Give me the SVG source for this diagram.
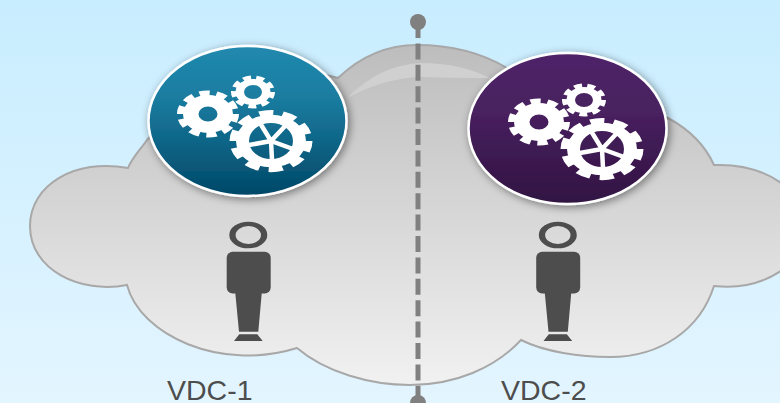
<svg xmlns="http://www.w3.org/2000/svg" xmlns:xlink="http://www.w3.org/1999/xlink" width="780" height="403" viewBox="0 0 780 403">
<style>
.lbl{font-family:"Liberation Sans",Arial,sans-serif;font-size:28.5px;fill:#4d4d4d}
.dk{fill:#4d4d4d}
.w{fill:#fff}
.teeth{fill:none;stroke:#fff}
.spoke{stroke:#fff;stroke-width:4.5;stroke-linecap:round;fill:none}
.oval{stroke:#fff;stroke-width:2.5;filter:url(#sh)}
</style>
<defs>
<linearGradient id="bg" x1="0" y1="0" x2="0" y2="1"><stop offset="0" stop-color="#c8edff"/><stop offset="1" stop-color="#e3f5ff"/></linearGradient>
<linearGradient id="cl" gradientUnits="userSpaceOnUse" x1="0" y1="45" x2="0" y2="385"><stop offset="0" stop-color="#bdbdbd"/><stop offset="1" stop-color="#f1f1f1"/></linearGradient>
<linearGradient id="blue" x1="0" y1="0" x2="0" y2="1"><stop offset="0" stop-color="#2189ae"/><stop offset=".35" stop-color="#1a7ca0"/><stop offset="1" stop-color="#004868"/></linearGradient>
<linearGradient id="purple" x1="0" y1="0" x2="0" y2="1"><stop offset="0" stop-color="#4f2468"/><stop offset=".4" stop-color="#48205f"/><stop offset="1" stop-color="#311342"/></linearGradient>
<filter id="sh" x="-20%" y="-20%" width="140%" height="140%"><feDropShadow dx="2" dy="2" stdDeviation="4" flood-color="#000" flood-opacity=".45"/></filter>
<g id="gears">
<g transform="translate(208,114) scale(1,.76)">
<path class="w" fill-rule="evenodd" d="M-25,0a25,25 0 1 0 50,0a25,25 0 1 0 -50,0ZM-9.5,0a9.5,10 0 1 1 19,0a9.5,10 0 1 1 -19,0Z"/>
<circle class="teeth" r="26.5" stroke-width="9" pathLength="100" stroke-dasharray="6 4"/>
</g>
<g transform="translate(253,92) scale(1,.75)">
<path class="w" fill-rule="evenodd" d="M-17.5,0a17.5,17.5 0 1 0 35,0a17.5,17.5 0 1 0 -35,0ZM-9,0a9,9.3 0 1 1 18,0a9,9.3 0 1 1 -18,0Z"/>
<circle class="teeth" r="18.5" stroke-width="7" pathLength="90" stroke-dasharray="6 4"/>
</g>
<g transform="translate(271,141)">
<g transform="scale(1,.75)">
<path class="w" fill-rule="evenodd" d="M-35,0a35,35 0 1 0 70,0a35,35 0 1 0 -70,0ZM-22,0a22,24 0 1 1 44,0a22,24 0 1 1 -44,0Z"/>
<circle class="teeth" r="36.5" stroke-width="10" pathLength="100" stroke-dasharray="6 4"/>
</g>
<path class="spoke" d="M0,0L-11,-18M0,0L16,-17M0,0L22,8M0,0L1,19M0,0L-22,4"/>
</g>
</g>
<g id="person">
<path class="dk" fill-rule="evenodd" d="M229.3,235a19,13.3 0 1 0 38,0a19,13.3 0 1 0 -38,0ZM235.6,235a12.7,9 0 1 1 25.4,0a12.7,9 0 1 1 -25.4,0Z"/>
<rect class="dk" x="226.7" y="251.7" width="44" height="41.8" rx="6"/>
<path class="dk" d="M235,290H262L258.3,331.7H239ZM239.3,334.3H257.3L262.7,341H234Z"/>
</g>
</defs>
<rect id="background" width="780" height="403" fill="url(#bg)"/>
<g id="cloud">
<path fill="url(#cl)" stroke="#a8a8a8" stroke-width="2" d="M128,168C75,158 30,185 30,226C30,270 80,294 127,285C140,335 220,372 297,348C325,372 370,385 410,385C455,385 495,368 521,340C545,352 580,357 610,357C660,357 700,330 714,286C740,289 765,283 785,268L785,186C765,170 740,164 714,165C705,145 690,130 668,118C620,90 550,85 507,68C480,52 450,45 417,45C385,45 360,57 338,78C280,60 190,90 147,140C140,150 132,158 128,168Z"/>
<path fill="#d0d0d0" d="M347,98Q380,65 420,63Q460,63 490,78Q460,78 420,77Q385,78 347,98Z"/>
</g>
<g id="vdc1-engine">
<ellipse class="oval" cx="247.5" cy="121" rx="99" ry="75" fill="url(#blue)"/>
<use href="#gears" xlink:href="#gears"/>
</g>
<g id="vdc2-engine">
<ellipse class="oval" cx="567.5" cy="128.5" rx="99" ry="75.5" fill="url(#purple)"/>
<use href="#gears" xlink:href="#gears" transform="translate(331,8)"/>
</g>
<g id="vdc1-user"><use href="#person" xlink:href="#person"/></g>
<g id="vdc2-user"><use href="#person" xlink:href="#person" transform="translate(309.5,0)"/></g>
<g id="connectors">
<line x1="418" y1="22" x2="418" y2="403" stroke="#808080" stroke-width="5" stroke-dasharray="16 5.4"/>
<circle cx="418" cy="22" r="8" fill="#808080"/>
<circle cx="418" cy="403" r="8" fill="#808080"/>
</g>
<g id="vdc1-label"><text class="lbl" x="167" y="400">VDC-1</text></g>
<g id="vdc2-label"><text class="lbl" x="501" y="400">VDC-2</text></g>
</svg>
